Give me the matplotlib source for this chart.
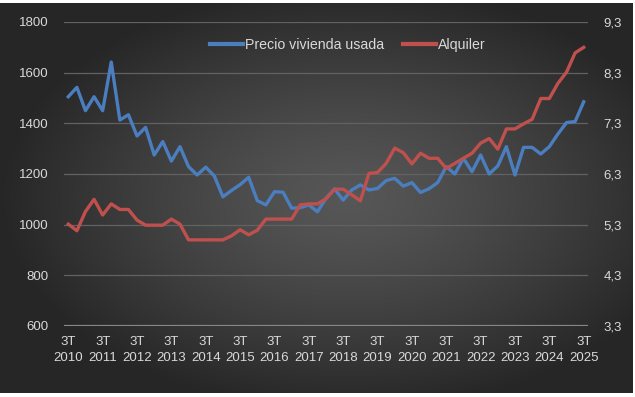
import numpy as np
import matplotlib
matplotlib.use("Agg")
import matplotlib.pyplot as plt
from matplotlib.ticker import FuncFormatter

# quarterly series, 3T 2010 .. 3T 2025
precio_usada = [1505, 1542, 1450, 1505, 1450, 1642, 1413, 1434, 1350, 1384,
                1275, 1328, 1251, 1308, 1229, 1196, 1227, 1192, 1110, 1135,
                1158, 1187, 1095, 1078, 1130, 1128, 1065, 1067, 1078, 1051,
                1104, 1141, 1097, 1137, 1157, 1137, 1143, 1174, 1183, 1152,
                1166, 1127, 1142, 1166, 1229, 1200, 1262, 1209, 1275, 1200,
                1232, 1308, 1196, 1305, 1305, 1279, 1308, 1358, 1403, 1407,
                1485]
alquiler = [5.31, 5.18, 5.56, 5.80, 5.49, 5.71, 5.60, 5.60, 5.39, 5.29,
            5.29, 5.29, 5.41, 5.31, 5.00, 5.00, 5.00, 5.00, 5.00, 5.08,
            5.20, 5.10, 5.19, 5.41, 5.41, 5.41, 5.41, 5.69, 5.71, 5.71,
            5.81, 6.00, 6.00, 5.89, 5.77, 6.31, 6.33, 6.51, 6.81, 6.72,
            6.50, 6.71, 6.61, 6.61, 6.41, 6.51, 6.61, 6.71, 6.91, 7.00,
            6.79, 7.19, 7.19, 7.29, 7.38, 7.79, 7.79, 8.09, 8.31, 8.69,
            8.80]
years = list(range(2010, 2026))
tick_labels = ["3T\n%d" % y for y in years]
left_ticks = [600, 800, 1000, 1200, 1400, 1600, 1800]
right_ticks = [3.3, 4.3, 5.3, 6.3, 7.3, 8.3, 9.3]

blue = "#4a7ebf"
red = "#c0504d"
txt = "#d9d9d9"

plt.rcParams["font.family"] = ["Liberation Sans", "DejaVu Sans"]

fig = plt.figure(figsize=(6.35, 3.97), dpi=100, facecolor="white")

# dark radial background
bg = fig.add_axes([0, 4 / 397, 633 / 635, 390 / 397])
bg.set_axis_off()
gx, gy = np.meshgrid(np.linspace(-1, 1, 400), np.linspace(-1, 1, 250))
r = np.sqrt(((gx - 0.1) / 1.1) ** 2 + (gy / 1.1) ** 2)
r = np.clip(r, 0, 1)
shade = 0.34 - 0.19 * r ** 1.3
img = np.dstack([shade, shade, shade])
bg.imshow(img, aspect="auto", extent=[0, 1, 0, 1], interpolation="bilinear")
bg.set_xlim(0, 1)
bg.set_ylim(0, 1)

ax = fig.add_axes([64 / 635, 1 - 326 / 397, 524 / 635, 304 / 397])
ax.patch.set_alpha(0)
ax2 = ax.twinx()

x = np.arange(len(precio_usada))
l1, = ax.plot(x, precio_usada, color=blue, lw=2.4, solid_joinstyle="round",
              label="Precio vivienda usada", zorder=3)
l2, = ax2.plot(x, alquiler, color=red, lw=2.4, solid_joinstyle="round",
               label="Alquiler", zorder=3)

ax.set_xlim(-0.5, len(x) - 0.5)
ax.set_ylim(600, 1800)
ax2.set_ylim(3.3, 9.3)
ax.set_yticks(left_ticks)
ax2.set_yticks(right_ticks)
ax2.yaxis.set_major_formatter(FuncFormatter(lambda v, p: ("%.1f" % v).replace(".", ",")))

ax.set_xticks(np.arange(0, len(x), 4))
ax.set_xticklabels(tick_labels, linespacing=1.45)

for a in (ax, ax2):
    for s in a.spines.values():
        s.set_visible(False)
    a.tick_params(length=0, colors=txt, labelsize=9.5)
ax.tick_params(axis="y", pad=11)
ax2.tick_params(axis="y", pad=11)
ax.tick_params(axis="x", pad=7)

ax.yaxis.grid(True, color="#626262", lw=0.9)
ax.set_axisbelow(True)
ax.axhline(600, color="#878787", lw=1.6, zorder=2)

leg = fig.legend(handles=[l1, l2], loc="center", bbox_to_anchor=(348 / 635, 1 - 45 / 397),
                 ncol=2, frameon=False, fontsize=10.2, handlelength=2.3,
                 handletextpad=0.15, columnspacing=1.35, labelcolor=txt)
for h in leg.get_lines():
    h.set_linewidth(3)

fig.savefig("out.png", dpi=100, facecolor="white")
